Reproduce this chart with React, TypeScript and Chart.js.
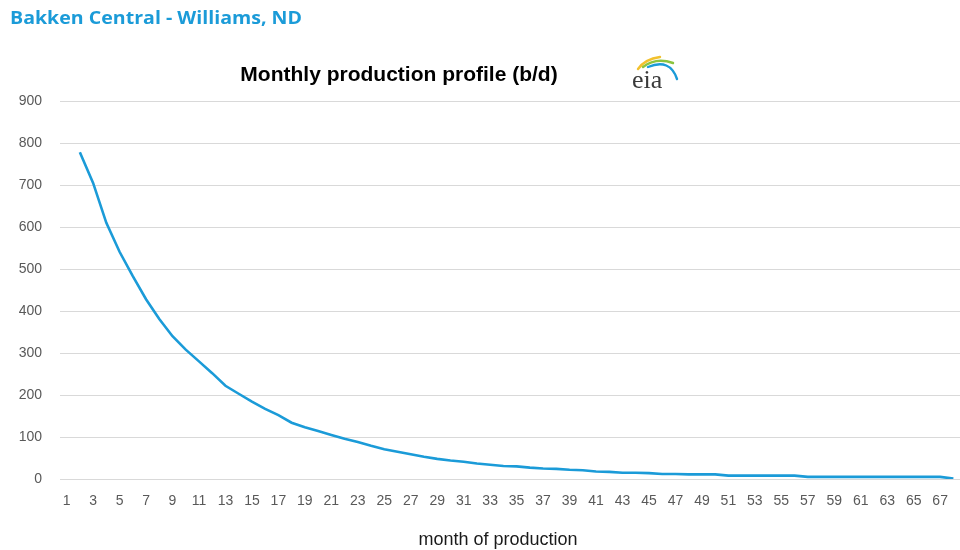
import React, { useEffect, useRef } from "react";
import { Chart, registerables } from "chart.js";

Chart.register(...registerables);

const months: string[] = Array.from({ length: 68 }, (_, i) => String(i + 1));

const production: (number | null)[] = [
  null, 778, 705, 610, 541, 483, 428, 381, 340, 308,
  280, 252, 222, 203, 184, 167, 152, 134, 123, 114,
  105, 96, 88, 79, 71, 65, 59, 53, 48, 44,
  41, 37, 34, 31, 30, 27, 25, 24, 22, 21,
  18, 17, 15, 15, 14, 12, 12, 11, 11, 11,
  8, 8, 8, 8, 8, 8, 5, 5, 5, 5,
  5, 5, 5, 5, 5, 5, 5, 1,
];

const yTicks: number[] = [0, 100, 200, 300, 400, 500, 600, 700, 800, 900];

const pageTitle = "Bakken Central - Williams, ND";
const chartTitle = "Monthly production profile (b/d)";
const xTitle = "month of production";

const textPlugin = {
  id: "texts",
  afterDraw(chart: any) {
    const ctx = chart.ctx as CanvasRenderingContext2D;
    ctx.save();
    // page title
    ctx.fillStyle = "#1b9bd8";
    ctx.font = "bold 17px 'Open Sans', 'Noto Sans', sans-serif";
    ctx.textBaseline = "middle";
    ctx.textAlign = "left";
    const w = ctx.measureText(pageTitle).width;
    ctx.save();
    ctx.translate(10, 19);
    ctx.scale(292 / w, 1);
    ctx.fillText(pageTitle, 0, 0);
    ctx.restore();

    // chart title
    ctx.fillStyle = "#000000";
    ctx.font = "bold 21px 'Liberation Sans', Arial, sans-serif";
    ctx.textAlign = "center";
    ctx.fillText(chartTitle, 399, 75);

    // x axis title
    ctx.fillStyle = "#1a1a1a";
    ctx.font = "18px 'Liberation Sans', Arial, sans-serif";
    ctx.fillText(xTitle, 498, 540);

    // eia logo swooshes
    ctx.lineCap = "round";
    ctx.lineWidth = 2.4;
    ctx.strokeStyle = "#f2c12e";
    ctx.beginPath();
    ctx.moveTo(638, 69);
    ctx.quadraticCurveTo(645, 59, 660, 57);
    ctx.stroke();
    ctx.strokeStyle = "#8cc43f";
    ctx.beginPath();
    ctx.moveTo(643, 67);
    ctx.quadraticCurveTo(656, 57, 673, 63);
    ctx.stroke();
    ctx.strokeStyle = "#1b9bd8";
    ctx.beginPath();
    ctx.moveTo(648, 67);
    ctx.quadraticCurveTo(670, 58, 677, 79);
    ctx.stroke();

    ctx.fillStyle = "#3a3a3a";
    ctx.font = "26px 'Liberation Serif', 'DejaVu Serif', serif";
    ctx.textAlign = "left";
    ctx.textBaseline = "alphabetic";
    ctx.fillText("eia", 632, 88);
    ctx.restore();
  },
};

export default function App() {
  const canvasRef = useRef<HTMLCanvasElement | null>(null);

  useEffect(() => {
    document.body.style.margin = "0";
    const canvas = canvasRef.current;
    if (!canvas) return;
    const chart = new Chart(canvas, {
      type: "line",
      data: {
        labels: months,
        datasets: [
          {
            data: production,
            borderColor: "#1b9bd8",
            borderWidth: 2.6,
            pointRadius: 0,
            tension: 0,
            fill: false,
            spanGaps: false,
          },
        ],
      },
      options: {
        responsive: false,
        animation: false,
        layout: { padding: { top: 101, right: 0, bottom: 0, left: 0 } },
        plugins: {
          legend: { display: false },
          title: { display: false },
          tooltip: { enabled: false },
        },
        scales: {
          x: {
            offset: true,
            grid: { display: false, drawTicks: false },
            border: { display: false },
            ticks: {
              autoSkip: false,
              maxRotation: 0,
              minRotation: 0,
              padding: 14,
              color: "#595959",
              font: { size: 14, family: "'Liberation Sans', Arial, sans-serif" },
              callback: (_v: any, i: number) => (i % 2 === 0 ? months[i] : ""),
            },
            afterFit: (s: any) => {
              s.height = 71;
              s.paddingLeft = 0;
              s.paddingRight = 0;
            },
          },
          y: {
            min: 0,
            max: 900,
            afterBuildTicks: (s: any) => {
              s.ticks = yTicks.map((v) => ({ value: v }));
            },
            grid: { color: "#d9d9d9", lineWidth: 1, drawTicks: false },
            border: { display: false },
            ticks: {
              padding: 18,
              color: "#595959",
              font: { size: 14, family: "'Liberation Sans', Arial, sans-serif" },
            },
            afterFit: (s: any) => {
              s.width = 60;
            },
          },
        },
      },
      plugins: [textPlugin],
    });
    return () => chart.destroy();
  }, []);

  return (
    <div style={{ position: "fixed", left: 0, top: 0, width: 960, height: 550, background: "#fff" }}>
      <canvas ref={canvasRef} width={960} height={550} />
    </div>
  );
}
